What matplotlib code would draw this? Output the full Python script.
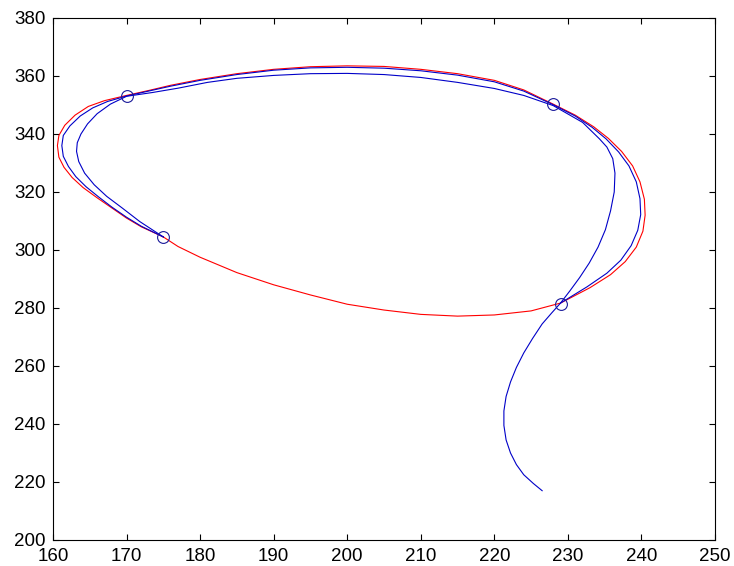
import matplotlib
matplotlib.use("Agg")
import matplotlib.pyplot as plt

plt.rcParams['font.family'] = ['Liberation Sans', 'DejaVu Sans']

# red closed loop
red_x = [175, 172, 170, 168, 166, 164.1, 162.6, 161.5, 160.8, 160.6, 160.8, 161.6, 163, 164.8, 167, 170,
         173, 176, 180, 185, 190, 195, 200, 205, 210, 215, 220, 224, 228, 231, 233.5, 235.5,
         237.3, 238.8, 239.8, 240.4, 240.5, 240.2, 239.3, 237.8, 235.8, 233, 229,
         225, 220, 215, 210, 205, 200, 195, 190, 185, 180, 177, 175]
red_y = [304.5, 308, 311, 314.5, 318, 321.5, 325, 328.5, 332, 336, 339.5, 343, 346.5, 349.5, 351.5, 353.3,
         355, 356.8, 358.8, 360.8, 362.3, 363.2, 363.5, 363.3, 362.3, 360.8, 358.5, 355.2, 350.3, 346.5, 342.5, 338.5,
         334, 329, 323.5, 317.5, 312, 306.5, 301, 296, 291.5, 287, 281.7,
         279, 277.6, 277.2, 277.8, 279.3, 281.3, 284.5, 288, 292.2, 297.5, 301.2, 304.5]

# blue outer curve (close to the red loop on left, top and right)
bo_x = [175, 172, 170, 168, 166.2, 164.5, 163.1, 162.1, 161.4, 161.2, 161.4, 162.3, 163.7, 165.4, 167.4, 170,
        173, 176, 180, 185, 190, 195, 200, 205, 210, 215, 220, 224, 228, 231, 233.3, 235.2,
        236.9, 238.3, 239.3, 239.8, 239.9, 239.5, 238.6, 237.2, 235.3, 232.6, 229]
bo_y = [304.5, 308.2, 311.3, 314.8, 318.3, 321.8, 325.3, 328.8, 332.3, 336, 339.5, 342.8, 346.2, 349, 351.2, 353.1,
        354.8, 356.5, 358.5, 360.5, 362, 362.8, 363, 362.7, 361.8, 360.3, 358, 354.8, 350.1, 346.2, 342.3, 338.3,
        333.8, 329, 323.5, 317.7, 312.2, 306.8, 301.5, 296.5, 292, 287.3, 281.7]

# blue trajectory
bt_x = [226.5, 225.3, 224, 223, 222.2, 221.6, 221.3, 221.3, 221.6, 222.2, 223, 224, 225.2, 226.5, 227.8, 229,
        230.3, 231.6, 232.9, 234.1, 235.1, 235.8, 236.3, 236.4, 236.1, 235.3, 234.3,
        232, 228, 224, 220, 215, 210, 205, 200, 195, 190, 185, 181, 177, 173.5, 170,
        167.8, 166, 164.7, 163.8, 163.3, 163.2, 163.5, 164.3, 165.6, 167.3, 169.4, 171.8, 175]
bt_y = [217, 219.5, 222.5, 226, 230, 234.5, 239.5, 244.5, 249.5, 254.5, 259.5, 264.5, 269.5, 274.5, 278.3, 281.7,
        286, 290.5, 295.5, 301, 307, 313.5, 320, 326.5, 331.5, 335.5, 338.3,
        344, 349.8, 353.3, 355.7, 357.8, 359.5, 360.5, 360.9, 360.8, 360.2, 359.2, 357.8, 355.8, 354.3, 353,
        350.3, 347, 343.5, 340, 337, 334, 330.5, 326.5, 322.5, 318.5, 314.5, 309.8, 304.5]

# circle markers
mk_x = [170, 228, 229, 175]
mk_y = [353.2, 350.2, 281.3, 304.5]

fig = plt.figure(figsize=(7.34, 5.66), dpi=100)
ax = fig.add_axes([53/734, 26/566, (715-53)/734, (540-18)/566])

ax.plot(red_x, red_y, color='#ff0000', lw=0.8)
ax.plot(bo_x, bo_y, color='#0000c8', lw=0.8)
ax.plot(bt_x, bt_y, color='#0000c8', lw=0.8)
ax.plot(mk_x, mk_y, linestyle='none', marker='o', markersize=8.5,
        markerfacecolor='none', markeredgecolor='#1a1a9a', markeredgewidth=0.8)

ax.set_xlim(160, 250)
ax.set_ylim(200, 380)
ax.set_xticks(range(160, 251, 10))
ax.set_yticks(range(200, 381, 20))
ax.tick_params(direction='in', length=4, width=0.8, top=True, right=True, labelsize=13.5,
               colors='black')
ax.tick_params(axis='x', pad=6)
ax.tick_params(axis='y', pad=5.5)
for s in ax.spines.values():
    s.set_linewidth(0.8)

fig.savefig('out.png', dpi=100)
